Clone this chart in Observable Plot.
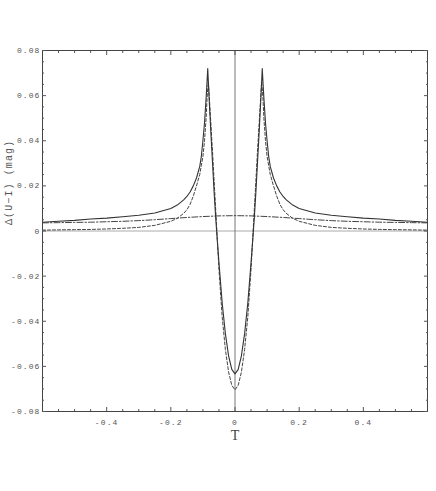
<!DOCTYPE html>
<html><head><meta charset="utf-8">
<script src="https://cdn.jsdelivr.net/npm/d3@7"></script>
<script src="https://cdn.jsdelivr.net/npm/@observablehq/plot@0.6"></script>
<style>
body{margin:0;background:#fff}
#chart svg text{letter-spacing:1.1px}
#chart svg g.tlabel text{letter-spacing:0}
</style>
</head><body><div id="chart"></div>
<script>
// T grid (x values)
const tValues = [-0.6,-0.55,-0.5,-0.45,-0.4,-0.35,-0.3,-0.25,-0.2,-0.18,-0.16,-0.15,-0.14,-0.13,-0.12,-0.11,-0.105,-0.1,-0.095,-0.09,-0.087,-0.085,-0.083,-0.08,-0.075,-0.07,-0.065,-0.06,-0.055,-0.05,-0.04,-0.03,-0.02,-0.01,0,
  0.01,0.02,0.03,0.04,0.05,0.055,0.06,0.065,0.07,0.075,0.08,0.083,0.085,0.087,0.09,0.095,0.1,0.105,0.11,0.12,0.13,0.14,0.15,0.16,0.18,0.2,0.25,0.3,0.35,0.4,0.45,0.5,0.55,0.6];
// solid curve
const solidValues = [0.0039,0.0043,0.0047,0.0053,0.0057,0.0063,0.0070,0.0080,0.0100,0.0115,0.0138,0.0153,0.0173,0.0200,0.0235,0.0285,0.0330,0.0400,0.0480,0.0590,0.0665,0.0720,0.0660,0.0570,0.0430,0.0300,0.0170,0.0055,-0.0045,-0.0140,-0.0318,-0.0455,-0.0553,-0.0613,-0.0633,
  -0.0613,-0.0553,-0.0455,-0.0318,-0.0140,-0.0045,0.0055,0.0170,0.0300,0.0430,0.0570,0.0660,0.0720,0.0665,0.0590,0.0480,0.0400,0.0330,0.0285,0.0235,0.0200,0.0173,0.0153,0.0138,0.0115,0.0100,0.0080,0.0070,0.0063,0.0057,0.0053,0.0047,0.0043,0.0039];
// dashed curve
const dashedValues = [0.0004,0.0005,0.0006,0.0007,0.0009,0.0012,0.0016,0.0025,0.0043,0.0056,0.0078,0.0094,0.0118,0.0155,0.0200,0.0250,0.0290,0.0330,0.0400,0.0500,0.0590,0.0630,0.0660,0.0590,0.0470,0.0350,0.0220,0.0090,-0.0040,-0.0170,-0.0380,-0.0525,-0.0625,-0.0684,-0.0704,
  -0.0684,-0.0625,-0.0525,-0.0380,-0.0170,-0.0040,0.0090,0.0220,0.0350,0.0470,0.0590,0.0660,0.0630,0.0590,0.0500,0.0400,0.0330,0.0290,0.0250,0.0200,0.0155,0.0118,0.0094,0.0078,0.0056,0.0043,0.0025,0.0016,0.0012,0.0009,0.0007,0.0006,0.0005,0.0004];
// dash-dot curve
const dashDotT = [-0.6,-0.55,-0.5,-0.45,-0.4,-0.35,-0.3,-0.25,-0.2,-0.15,-0.1,-0.05,0,0.05,0.1,0.15,0.2,0.25,0.3,0.35,0.4,0.45,0.5,0.55,0.6];
const dashDotValues = [0.0036,0.0037,0.0038,0.0039,0.0041,0.0043,0.0046,0.0050,0.0055,0.0060,0.0064,0.0067,0.0068,0.0067,0.0064,0.0060,0.0055,0.0050,0.0046,0.0043,0.0041,0.0039,0.0038,0.0037,0.0036];

const xTicks = [-0.4,-0.2,0,0.2,0.4];
const xTickLabels = ["-0.4","-0.2","0","0.2","0.4"];
const yTicks = [-0.08,-0.06,-0.04,-0.02,0,0.02,0.04,0.06,0.08];
const yTickLabels = ["-0.08","-0.06","-0.04","-0.02","0","0.02","0.04","0.06","0.08"];
const xMinor = [-0.55,-0.5,-0.45,-0.35,-0.3,-0.25,-0.15,-0.1,-0.05,0.05,0.1,0.15,0.25,0.3,0.35,0.45,0.5,0.55];
const yMinor = [-0.075,-0.07,-0.065,-0.055,-0.05,-0.045,-0.035,-0.03,-0.025,-0.015,-0.01,-0.005,0.005,0.01,0.015,0.025,0.03,0.035,0.045,0.05,0.055,0.065,0.07,0.075];

const xFmt = d => xTickLabels[xTicks.findIndex(v => Math.abs(v - d) < 1e-9)];
const yFmt = d => yTickLabels[yTicks.findIndex(v => Math.abs(v - d) < 1e-9)];

const solidData = tValues.map((t,i) => ({t, v: solidValues[i]}));
const dashedData = tValues.map((t,i) => ({t, v: dashedValues[i]}));
const dashDotData = dashDotT.map((t,i) => ({t, v: dashDotValues[i]}));

const axisColor = "#555";
const tickOnly = {tickFormat: null, label: null, stroke: axisColor, fill: "none"};
const chart = Plot.plot({
  width: 436, height: 491,
  marginLeft: 42, marginRight: 9, marginTop: 50, marginBottom: 80,
  x: {domain: [-0.6, 0.6]},
  y: {domain: [-0.08, 0.08]},
  style: {fontFamily: "'Liberation Mono', monospace", fontSize: "8px", color: axisColor, background: "white"},
  marks: [
    Plot.ruleY([0], {stroke: "#aaa", strokeWidth: 1}),
    Plot.ruleX([0], {stroke: "#777", strokeWidth: 1}),
    Plot.line(dashDotData, {x: "t", y: "v", stroke: "#444", strokeWidth: 1, strokeDasharray: "6,2,1.5,2"}),
    Plot.line(dashedData, {x: "t", y: "v", stroke: "#444", strokeWidth: 1, strokeDasharray: "3,2"}),
    Plot.line(solidData, {x: "t", y: "v", stroke: "#333", strokeWidth: 1.1}),
    Plot.frame({stroke: "#444", strokeWidth: 1}),
    Plot.axisX(xTicks, {anchor: "bottom", tickSize: -4, tickPadding: 12, tickFormat: xFmt, label: null, color: axisColor}),
    Plot.axisX(xMinor, {anchor: "bottom", tickSize: -2, ...tickOnly}),
    Plot.axisX(xTicks, {anchor: "top", tickSize: -4, ...tickOnly}),
    Plot.axisX(xMinor, {anchor: "top", tickSize: -2, ...tickOnly}),
    Plot.axisY(yTicks, {anchor: "left", tickSize: -4, tickPadding: 6, tickFormat: yFmt, label: null, color: axisColor}),
    Plot.axisY(yMinor, {anchor: "left", tickSize: -2, ...tickOnly}),
    Plot.axisY(yTicks, {anchor: "right", tickSize: -4, ...tickOnly}),
    Plot.axisY(yMinor, {anchor: "right", tickSize: -2, ...tickOnly}),
    Plot.text(["T"], {frameAnchor: "bottom", dy: 28, text: d => d, fontFamily: "'Liberation Serif', serif", fontSize: 14, fill: "#444", className: "tlabel"}),
    Plot.text(["Δ(U−I) (mag)"], {frameAnchor: "left", dx: -34, dy: -6, rotate: -90, text: d => d, fontSize: 10, fill: "#555"})
  ]
});
document.getElementById("chart").appendChild(chart);
</script>
</body></html>
